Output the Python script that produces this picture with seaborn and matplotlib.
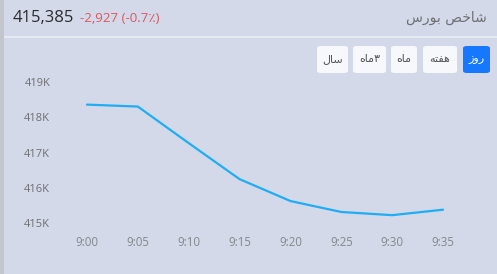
import numpy as np
import pandas as pd
import matplotlib
matplotlib.use("Agg")
import matplotlib.pyplot as plt
from matplotlib.patches import FancyBboxPatch, Rectangle
import seaborn as sns

# Intraday index values (5-minute steps)
times = ["9:00", "9:05", "9:10", "9:15", "9:20", "9:25", "9:30", "9:35"]
values = [418360, 418305, 417270, 416250, 415630, 415320, 415230, 415385]
y_ticks = [415000, 416000, 417000, 418000, 419000]
y_tick_labels = ["415K", "416K", "417K", "418K", "419K"]

last_value = "415,385"
change_text = "-2,927 (-0.7\u066a)"
# Persian labels written in shaped presentation forms, visual order
title_text = "\ufeb1\ufead\ufeee\ufe91 \ufeba\ufea7\ufe8e\ufeb7"          # شاخص بورس
range_buttons = [
    "\ufeaf\ufeed\ufead",              # روز
    "\ufeea\ufe98\ufed4\ufeeb",        # هفته
    "\ufee9\ufe8e\ufee3",              # ماه
    "\ufee9\ufe8e\ufee3\u06f3",        # ۳ماه
    "\ufedd\ufe8e\ufeb3",              # سال
]

BG = "#d3d9e8"
LINE = "#1fadf5"
ACTIVE = "#1677ff"

sns.set_theme(style="white")
plt.rcParams["font.family"] = ["Open Sans", "DejaVu Sans"]

W, H = 497, 274
fig = plt.figure(figsize=(W / 100, H / 100), dpi=100, facecolor=BG)

def fx(px):
    return px / W

def fy(py):
    return 1 - py / H

# left edge strip and header separator
fig.patches.append(Rectangle((0, 0), fx(4), 1, transform=fig.transFigure,
                             facecolor="#c4c6cd", edgecolor="none", zorder=0))
fig.patches.append(Rectangle((fx(4), fy(38)), 1, 1.5 / H, transform=fig.transFigure,
                             facecolor="#e6e9f2", edgecolor="none", zorder=0))

ax_l, ax_r, ax_t, ax_b = 60, 470, 70, 230
ax = fig.add_axes([fx(ax_l), fy(ax_b), fx(ax_r - ax_l), (ax_b - ax_t) / H])
ax.set_facecolor(BG)

df = pd.DataFrame({"pos": np.arange(len(times)), "value": values})
sns.lineplot(data=df, x="pos", y="value", ax=ax, color=LINE, linewidth=1.6)

ax.set_xlim(-0.53, 7.53)
ax.set_ylim(414810, 419340)
ax.set_xticks(np.arange(len(times)))
ax.set_xticklabels(times)
ax.set_yticks(y_ticks)
ax.set_yticklabels(y_tick_labels)
ax.set_xlabel("")
ax.set_ylabel("")
for s in ax.spines.values():
    s.set_visible(False)
ax.grid(False)
ax.tick_params(axis="y", length=0, pad=7, labelsize=8, labelcolor="#6f6f74")
ax.tick_params(axis="x", length=0, pad=4.5, labelsize=8.3, labelcolor="#85878c")

# header
fig.text(fx(13), fy(18), last_value, fontsize=12, color="#2b2b30",
         ha="left", va="center")
fig.text(fx(80), fy(18.5), change_text, fontsize=9.5, color="#e0565b",
         ha="left", va="center")
fig.text(fx(487), fy(18), title_text, fontsize=10, color="#707076",
         ha="right", va="center", family="DejaVu Sans")

# time range buttons (right to left)
btn_boxes = [(463, 490), (423, 457), (391, 417), (353, 386), (317, 348)]
for i, (label, (x0, x1)) in enumerate(zip(range_buttons, btn_boxes)):
    active = i == 0
    box = FancyBboxPatch((fx(x0), fy(73)), fx(x1 - x0), 27 / H,
                         boxstyle="round,pad=0,rounding_size=0.008",
                         transform=fig.transFigure,
                         facecolor=ACTIVE if active else "#f6f8fb",
                         edgecolor="none", zorder=1)
    fig.patches.append(box)
    fig.text(fx((x0 + x1) / 2), fy(59.5), label, fontsize=8,
             color="white" if active else "#55575c", ha="center", va="center",
             family="DejaVu Sans", zorder=2)

fig.savefig("out.png", dpi=100, facecolor=BG)
